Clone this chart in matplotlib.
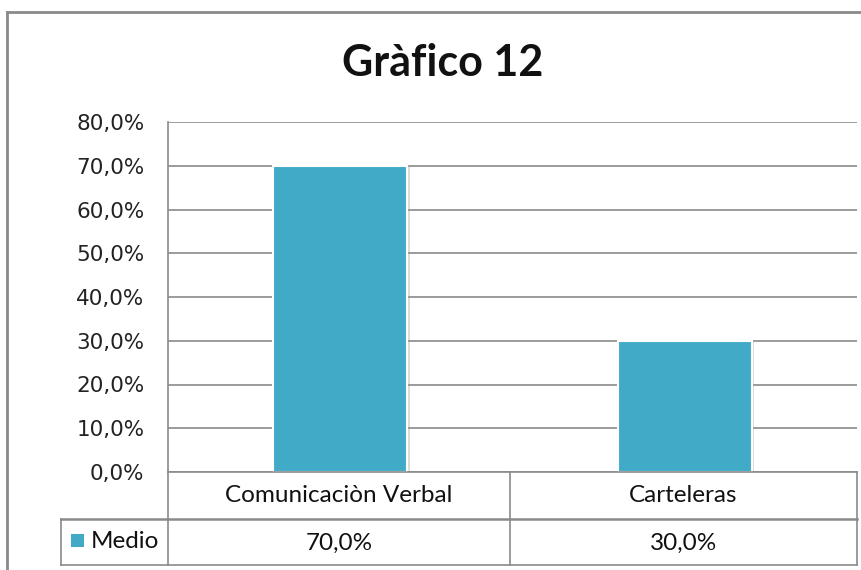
import matplotlib.pyplot as plt
import matplotlib.patheffects as pe
from matplotlib.lines import Line2D
from matplotlib.patches import Rectangle

categories = ["Comunicaciòn Verbal", "Carteleras"]
values = [70.0, 30.0]
value_labels = ["70,0%", "30,0%"]
series_name = "Medio"
title = "Gràfico 12"
yticks = [0, 10, 20, 30, 40, 50, 60, 70, 80]

W, H = 861, 570
bar_color = "#41ABC7"
line_color = "#8a8a8a"

fig = plt.figure(figsize=(W / 100, H / 100), dpi=100)


def fx(x):
    return x / W


def fy(y):
    return 1 - y / H


# plot area in pixel coords of the reference
left, right, top, bottom = 168, 857, 122, 472
ax = fig.add_axes([fx(left), fy(bottom), fx(right) - fx(left), fy(top) - fy(bottom)])

x = list(range(len(categories)))
bars = ax.bar(x, values, width=0.39, color=bar_color, edgecolor="white",
              linewidth=1.5, zorder=3)
for b in bars:
    b.set_path_effects([pe.SimplePatchShadow(offset=(1.5, -1), shadow_rgbFace="#999999", alpha=0.35),
                        pe.Normal()])

ax.set_xlim(-0.5, len(categories) - 0.5)
ax.set_ylim(0, 80)
ax.set_yticks(yticks)
ax.set_yticklabels([f"{v:.1f}%".replace(".", ",") for v in yticks],
                   fontsize=15.5, family="DejaVu Sans", color="#222222")
ax.tick_params(axis="y", length=0, pad=17)
ax.set_xticks([])
ax.grid(axis="y", color=line_color, linewidth=1.2, zorder=0)
for s in ["top", "right", "bottom"]:
    ax.spines[s].set_visible(False)
ax.spines["left"].set_color(line_color)
ax.spines["left"].set_linewidth(1.2)

fig.text(fx(443), fy(63), title, ha="center", va="center", fontsize=31,
         fontweight="bold", family="Lato", color="#111111")


def hline(y, x0, x1, lw=1.2):
    fig.add_artist(Line2D([fx(x0), fx(x1)], [fy(y), fy(y)], color=line_color, lw=lw))


def vline(x, y0, y1, lw=1.2):
    fig.add_artist(Line2D([fx(x), fx(x)], [fy(y0), fy(y1)], color=line_color, lw=lw))


# outer chart frame
vline(7, 12, 570, lw=2)
hline(12, 7, 861, lw=2)

# data table under the axis
col_edges = [168, 510, 857]
hline(472, 168, 857)
hline(519, 61, 857, lw=1.8)
hline(565, 61, 857)
vline(61, 519, 565)
for cx in col_edges:
    vline(cx, 472, 565)

for i, cat in enumerate(categories):
    cx = (col_edges[i] + col_edges[i + 1]) / 2
    fig.text(fx(cx), fy(496), cat, ha="center", va="center", fontsize=17.5,
             family="Lato", color="#111111")
    fig.text(fx(cx), fy(543), value_labels[i], ha="center", va="center", fontsize=17.5,
             family="Lato", color="#111111")

fig.add_artist(Rectangle((fx(71), fy(547)), fx(13), fy(534) - fy(547),
                         facecolor=bar_color, edgecolor="none"))
fig.text(fx(91), fy(541), series_name, ha="left", va="center", fontsize=17.5,
         family="Lato", color="#111111")

fig.savefig("out.png", dpi=100)
